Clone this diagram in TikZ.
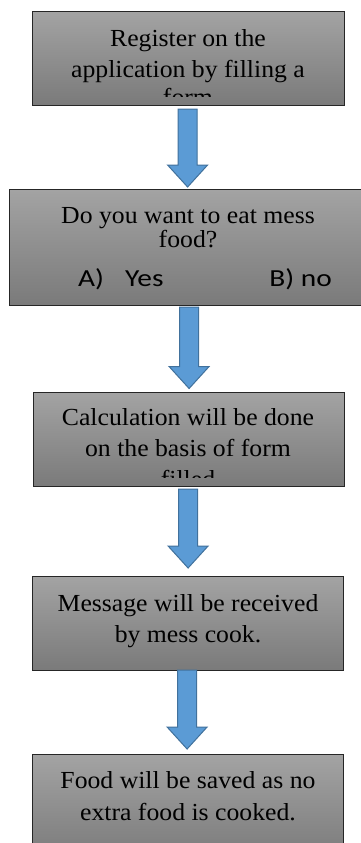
\documentclass[tikz,border=0pt]{standalone}
\usepackage{fontspec}
\setmainfont{Liberation Serif}
\newfontfamily\boxserif[FakeStretch=1.05]{Liberation Serif}
\newfontfamily\boxsans[FakeStretch=1.2]{Carlito}
\usetikzlibrary{calc}
\definecolor{boxtop}{HTML}{A3A3A3}
\definecolor{boxbot}{HTML}{7A7A7A}
\definecolor{arrfill}{HTML}{5B9BD5}
\definecolor{arredge}{HTML}{41719C}
\definecolor{boxedge}{HTML}{262626}
\tikzset{
  flowbox/.style={rectangle, draw=boxedge, line width=1.2pt, top color=boxtop, bottom color=boxbot, inner sep=0pt, anchor=north west},
  txt/.style={anchor=base, inner sep=0pt, font=\boxserif\fontsize{24.5}{29}\selectfont},
  stxt/.style={inner sep=0pt, font=\boxsans\fontsize{24.5}{29}\selectfont},
  blockarrow/.style={fill=arrfill, draw=arredge, line width=1pt, line join=miter}
}
\newcommand{\blockarr}[4]{%
  \draw[blockarrow] let \p1=($(#1.south)+(-1,#3)$), \p2=($(#2.north)+(-1,-#4)$) in
    (\x1-9.5pt,\y1) -- (\x1+9.5pt,\y1) -- (\x1+9.5pt,\y2+22pt) -- (\x1+20pt,\y2+22pt)
    -- (\x1,\y2) -- (\x1-20pt,\y2+22pt) -- (\x1-9.5pt,\y2+22pt) -- cycle;}
\begin{document}
\begin{tikzpicture}[x=1pt,y=-1pt]
\clip (0,0) rectangle (361,843);
\fill[white] (0,0) rectangle (361,843);
% boxes
\node[flowbox, minimum width=312pt, minimum height=94pt] (b1) at (32,11) {};
\node[flowbox, minimum width=361pt, minimum height=116pt] (b2) at (9,189) {};
\node[flowbox, minimum width=311pt, minimum height=94pt] (b3) at (33,392) {};
\node[flowbox, minimum width=311pt, minimum height=94pt] (b4) at (32,576) {};
\node[flowbox, minimum width=311pt, minimum height=106pt] (b5) at (32,754) {};
% texts
\begin{scope}
  \clip (b1.north west) rectangle ($(b1.south east)+(0,-9.5)$);
  \node[txt] (t1a) at (188,46.5) {Register on the};
  \node[txt] (t1b) at (188,77.5) {application by filling a};
  \node[txt] (t1c) at (188,105) {form};
\end{scope}
\node[txt] (t2a) at (188,223) {Do you want to eat mess};
\node[txt] (t2b) at (188,247) {food?};
\node[stxt, anchor=base west] (t2c) at (78,286) {A)};
\node[stxt, anchor=base west] (t2d) at (125,286) {Yes};
\node[stxt, anchor=base east] (t2e) at (332,286) {B) no};
\begin{scope}
  \clip (b3.north west) rectangle ($(b3.south east)+(0,-10)$);
  \node[txt] (t3a) at (188,425) {Calculation will be done};
  \node[txt] (t3b) at (188,456.5) {on the basis of form};
  \node[txt] (t3c) at (188,487.5) {filled};
\end{scope}
\node[txt] (t4a) at (188,611) {Message will be received};
\node[txt] (t4b) at (188,642) {by mess cook.};
\node[txt] (t5a) at (188,788) {Food will be saved as no};
\node[txt] (t5b) at (188,820) {extra food is cooked.};
% arrows
\blockarr{b1}{b2}{3}{2}
\blockarr{b2}{b3}{1}{3.5}
\blockarr{b3}{b4}{2}{8}
\blockarr{b4}{b5}{-1}{5}
\end{tikzpicture}
\end{document}
